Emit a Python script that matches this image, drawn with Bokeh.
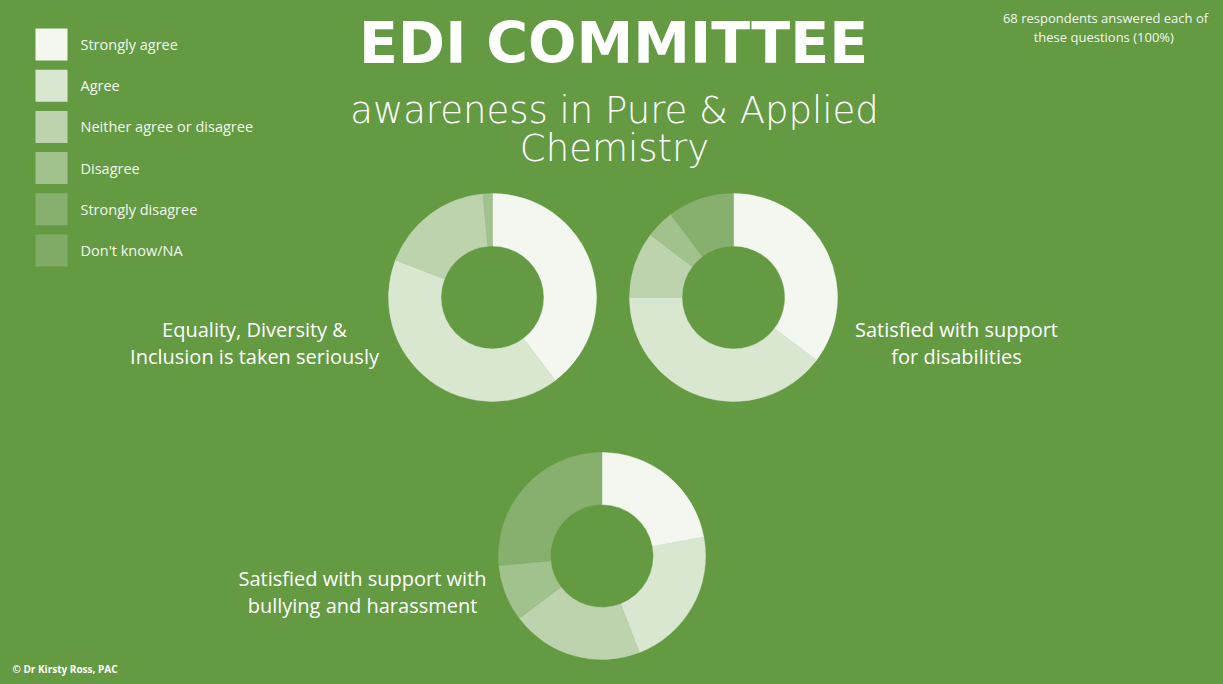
import numpy as np
from bokeh.plotting import figure
from bokeh.models import Range1d, ColumnDataSource
from bokeh.core.properties import value
from bokeh.embed import file_html
from bokeh.resources import INLINE

# ---------------- data ----------------
categories = ["Strongly agree", "Agree", "Neither agree or disagree",
              "Disagree", "Strongly disagree", "Don't know/NA"]
cat_colors = ["#F3F7F0", "#D9E6D0", "#BCD3AE", "#A1C18D", "#87B06F", "#80AB66"]

questions = ["Equality, Diversity &\nInclusion is taken seriously",
             "Satisfied with support\nfor disabilities",
             "Satisfied with support with\nbullying and harassment"]
q1_counts = [27, 28, 12, 1, 0, 0]
q2_counts = [24, 27, 7, 3, 7, 0]
q3_counts = [15, 15, 14, 6, 18, 0]

title = "EDI COMMITTEE"
subtitle = ["awareness in Pure & Applied", "Chemistry"]
note = ["68 respondents answered each of", "these questions  (100%)"]
credit = "\u00a9 Dr Kirsty Ross, PAC"

BG = "#639A42"
FONT = "Open Sans"

# ---------------- figure ----------------
W, H = 1220, 682
p = figure(width=W, height=H, x_range=Range1d(0, W), y_range=Range1d(684 - H, 684),
           x_axis_type=None, y_axis_type=None, toolbar_location=None,
           output_backend="svg", min_border=0, outline_line_color=None,
           background_fill_color=BG, border_fill_color=BG)
p.grid.visible = False

def Y(v):
    return 684 - np.asarray(v, dtype=float)

# ---------------- donuts ----------------
def donut(counts, cx, cy, r_in, r_out):
    counts = np.asarray(counts, dtype=float)
    frac = counts / counts.sum()
    cum = np.concatenate([[0], np.cumsum(frac)]) * 2 * np.pi
    keep = counts > 0
    start = (np.pi / 2 - cum[1:])[keep]
    end = (np.pi / 2 - cum[:-1])[keep]
    cols = [c for c, k in zip(cat_colors, keep) if k]
    src = ColumnDataSource(dict(start=start, end=end, color=cols))
    p.annular_wedge(x=cx, y=float(Y(cy)), inner_radius=r_in, outer_radius=r_out,
                    start_angle="start", end_angle="end", fill_color="color",
                    line_color="color", line_width=0.5, source=src)

donut(q1_counts, 492, 297, 51.5, 104)
donut(q2_counts, 733, 297, 51.5, 104)
donut(q3_counts, 601.5, 555.5, 51.5, 103.5)

# ---------------- question labels ----------------
label_pos = [(254, 329), (956, 329), (362, 578)]
for q, (lx, ly) in zip(questions, label_pos):
    lines = q.split("\n")
    p.text(x=[lx] * len(lines), y=list(Y([ly + 27 * i for i in range(len(lines))])),
           text=lines, text_font=value(FONT), text_font_size="20px",
           text_color="white", text_align="center", text_baseline="middle")

# ---------------- legend ----------------
for i, (c, col) in enumerate(zip(categories, cat_colors)):
    yc = 44 + 41.2 * i
    p.rect(x=51, y=float(Y(yc)), width=32, height=32, fill_color=col, line_color=None)
    p.text(x=[80], y=[float(Y(yc))], text=[c], text_font=value(FONT),
           text_font_size="14.5px", text_color="#F3F7F0", text_align="left",
           text_baseline="middle")

# ---------------- title ----------------
p.text(x=[613], y=[float(Y(42))], text=[title], text_font=value("DejaVu Sans"),
       text_font_style="bold", text_font_size="57px", text_color="white",
       text_align="center", text_baseline="middle")
p.text(x=[614, 614], y=list(Y([110, 148])), text=subtitle,
       text_font=value("DejaVu Sans Light"),
       text_font_size="37px", text_color="white",
       text_align="center", text_baseline="middle")

# ---------------- note & credit ----------------
p.text(x=[1105, 1105], y=list(Y([17, 36])), text=note, text_font=value(FONT),
       text_font_size="13px", text_color="#F3F7F0", text_align="center",
       text_baseline="middle")
p.text(x=[12], y=[float(Y(668))], text=[credit], text_font=value(FONT),
       text_font_style="bold", text_font_size="10px", text_color="white",
       text_align="left", text_baseline="middle")

html = file_html(p, INLINE, title="EDI Committee")
html = html.replace("</head>", "<style>html,body{background:%s;}</style></head>" % BG, 1)
open("out.html", "w").write(html)
